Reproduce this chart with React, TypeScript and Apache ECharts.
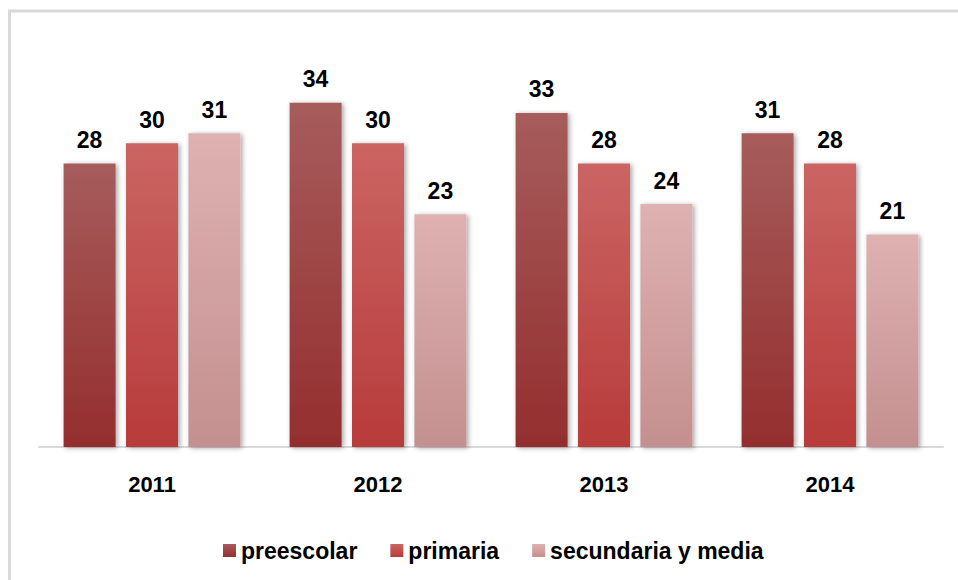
import React, { useEffect, useRef } from "react";
import * as echarts from "echarts";

const years = ["2011", "2012", "2013", "2014"];
const preescolar = [28, 34, 33, 31];
const primaria = [30, 30, 28, 28];
const secundaria = [31, 23, 24, 21];
const seriesNames = ["preescolar", "primaria", "secundaria y media"];

const grad = (top: string, bottom: string) =>
  new echarts.graphic.LinearGradient(0, 0, 0, 1, [
    { offset: 0, color: top },
    { offset: 1, color: bottom },
  ]);

export default function App() {
  const ref = useRef<HTMLDivElement>(null);
  useEffect(() => {
    if (!ref.current) return;
    const chart = echarts.init(ref.current, null, { renderer: "svg" });
    const font = "'Liberation Sans', Arial, sans-serif";
    const label = {
      show: true,
      position: "top" as const,
      distance: 12,
      color: "#000",
      fontWeight: "bold" as const,
      fontSize: 23,
      fontFamily: font,
    };
    const shadow = {
      shadowBlur: 5,
      shadowColor: "rgba(0,0,0,0.35)",
      shadowOffsetX: 2,
      shadowOffsetY: 1,
    };
    const colors = [
      ["#a75c5c", "#942e2e"],
      ["#ca6563", "#b83b3b"],
      ["#deb2b1", "#c48f8f"],
    ];
    const data = [preescolar, primaria, secundaria];
    chart.setOption({
      animation: false,
      backgroundColor: "#fff",
      graphic: [
        {
          type: "rect",
          shape: { x: 9.5, y: 11, width: 1200, height: 1200 },
          style: { fill: "none", stroke: "#d9d9d9", lineWidth: 3 },
          silent: true,
        },
      ],
      grid: { left: 39, right: 15, top: 42, bottom: 133 },
      legend: {
        left: 218,
        top: 534,
        itemWidth: 13,
        itemHeight: 13,
        itemGap: 33,
        icon: "rect",
        textStyle: {
          color: "#000",
          fontWeight: "bold",
          fontSize: 23,
          fontFamily: font,
        },
        data: seriesNames,
      },
      xAxis: {
        type: "category",
        data: years,
        axisLine: { lineStyle: { color: "#d9d9d9", width: 2 } },
        axisTick: { show: false },
        axisLabel: {
          color: "#000",
          fontWeight: "bold",
          fontSize: 22,
          fontFamily: font,
          margin: 26,
        },
      },
      yAxis: {
        type: "value",
        min: 0,
        max: 40,
        show: false,
        splitLine: { show: false },
      },
      series: seriesNames.map((name, i) => ({
        name,
        type: "bar",
        data: data[i],
        barWidth: 52,
        barGap: "20%",
        itemStyle: { color: grad(colors[i][0], colors[i][1]), ...shadow },
        label,
      })),
    });
    return () => chart.dispose();
  }, []);
  return (
    <div
      ref={ref}
      style={{ position: "fixed", left: 0, top: 0, width: 958, height: 580 }}
    />
  );
}
